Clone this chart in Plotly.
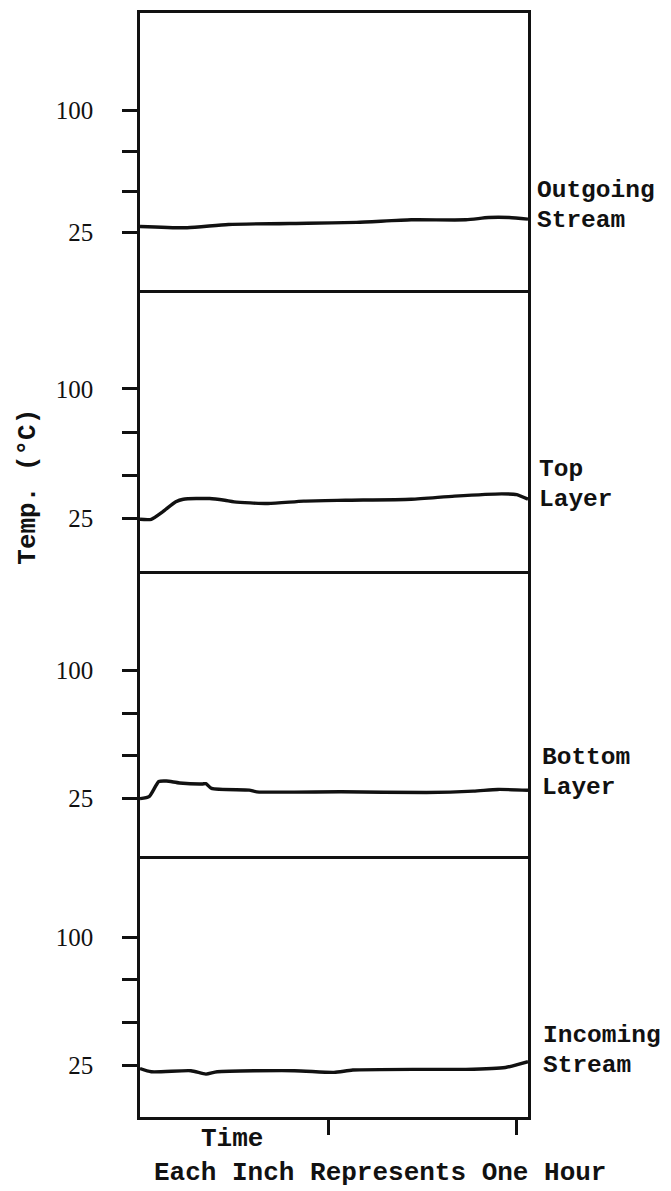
import plotly.graph_objects as go
from plotly.subplots import make_subplots

# ---- data (time in hours, temperature in °C) ----
out_t = [0, 0.25, 0.47, 0.89, 1.15, 1.44, 1.73, 1.85, 1.96, 2.06]
out_T = [28.7, 27.9, 29.9, 30.7, 31.2, 32.8, 32.8, 34.2, 34.2, 33.2]

top_t = [0, 0.06, 0.12, 0.19, 0.23, 0.37, 0.45, 0.50, 0.68, 0.87, 1.09, 1.44, 1.67, 1.92, 2.00, 2.06]
top_T = [24.6, 24.6, 28.9, 34.7, 36.2, 36.6, 35.6, 34.7, 33.7, 35.1, 35.6, 36.2, 38.0, 39.3, 38.9, 36.2]

bot_t = [0, 0.05, 0.10, 0.14, 0.21, 0.33, 0.35, 0.38, 0.58, 0.62, 1.07, 1.52, 1.77, 1.90, 2.06]
bot_T = [25, 26.4, 35, 35.3, 34.2, 33.6, 33.8, 31, 30, 29, 29, 28.6, 29.4, 30.4, 29.9]

inc_t = [0, 0.06, 0.27, 0.35, 0.41, 0.82, 1.03, 1.13, 1.50, 1.73, 1.94, 2.06]
inc_T = [23, 21.1, 21.7, 19.7, 21.1, 21.7, 20.7, 22.1, 22.5, 22.5, 23.6, 27]

series_names = [["Outgoing", "Stream"], ["Top", "Layer"], ["Bottom", "Layer"], ["Incoming", "Stream"]]
tick_vals = [25, 50, 75, 100]
tick_text = ["25", "", "", "100"]
time_ticks = [1, 2]

y_ranges = [[-10.6, 160.2], [-5.6, 157.1], [-8.4, 158.0], [-5.5, 148.0]]

# ---- layout geometry (reference pixels; page body has an 8px margin) ----
OFF = 8
W, H = 671 - OFF, 1191 - OFF
L, R = 140, 528
T, B = 10, 1117
panel_px = [(10, 288), (288, 570), (570, 855), (855, 1117)]


def px_x(px):
    return (px - L) / (R - L)


def px_y(py):
    return (B - py) / (B - T)


FONT = "Liberation Mono"
SERIF = "Liberation Serif"
BLACK = "#111111"

fig = make_subplots(rows=4, cols=1, shared_xaxes=False, vertical_spacing=0)

data = [(out_t, out_T), (top_t, top_T), (bot_t, bot_T), (inc_t, inc_T)]
for i, (tx, ty) in enumerate(data):
    fig.add_trace(go.Scatter(x=tx, y=ty, mode="lines",
                             line=dict(color=BLACK, width=3.4, shape="spline", smoothing=0.6),
                             showlegend=False, hoverinfo="skip"), row=i + 1, col=1)

for i in range(4):
    top_px, bot_px = panel_px[i]
    yname = "yaxis" if i == 0 else f"yaxis{i+1}"
    xname = "xaxis" if i == 0 else f"xaxis{i+1}"
    fig.layout[yname].update(
        domain=[px_y(bot_px), px_y(top_px)], range=y_ranges[i],
        tickvals=tick_vals, ticktext=tick_text, ticks="outside", ticklen=15, tickwidth=2.5,
        tickcolor=BLACK, showline=True, linecolor=BLACK, linewidth=2.5, mirror=True,
        showgrid=False, zeroline=False, ticklabelstandoff=24,
        tickfont=dict(family=SERIF, size=25, color=BLACK),
    )
    last = (i == 3)
    fig.layout[xname].update(
        range=[0, 2.06], showline=True, linecolor=BLACK, linewidth=2.5, mirror=(i == 0),
        showgrid=False, zeroline=False,
        tickvals=time_ticks if last else [], ticktext=["", ""] if last else [],
        ticks="outside" if last else "", ticklen=15, tickwidth=2.5, tickcolor=BLACK,
    )

annotations = []
label_pos = [(535, 188), (537, 468), (540, 757), (541, 1035)]
for (lx, ly), (l1, l2) in zip(label_pos, series_names):
    for k, txt in enumerate((l1, l2)):
        annotations.append(dict(x=px_x(lx), y=px_y(ly + 30 * k), xref="paper", yref="paper",
                                text=f"<b>{txt}</b>", showarrow=False, xanchor="left", yanchor="middle",
                                font=dict(family=FONT, size=24.5, color=BLACK)))

annotations.append(dict(x=px_x(232), y=px_y(1139), xref="paper", yref="paper", text="<b>Time</b>",
                        showarrow=False, xanchor="center", yanchor="middle",
                        font=dict(family=FONT, size=26, color=BLACK)))
annotations.append(dict(x=px_x(380), y=px_y(1173), xref="paper", yref="paper",
                        text="<b>Each Inch Represents One Hour</b>",
                        showarrow=False, xanchor="center", yanchor="middle",
                        font=dict(family=FONT, size=26, color=BLACK)))
annotations.append(dict(x=px_x(28), y=px_y(485), xref="paper", yref="paper", text="<b>Temp. (°C)</b>",
                        showarrow=False, xanchor="center", yanchor="middle", textangle=-90,
                        font=dict(family=FONT, size=26, color=BLACK)))

fig.update_layout(
    width=W, height=H,
    margin=dict(l=L - OFF, r=(W + OFF) - R, t=T - OFF, b=(H + OFF) - B),
    paper_bgcolor="white", plot_bgcolor="white",
    annotations=annotations,
)

fig.write_html("out.html")
